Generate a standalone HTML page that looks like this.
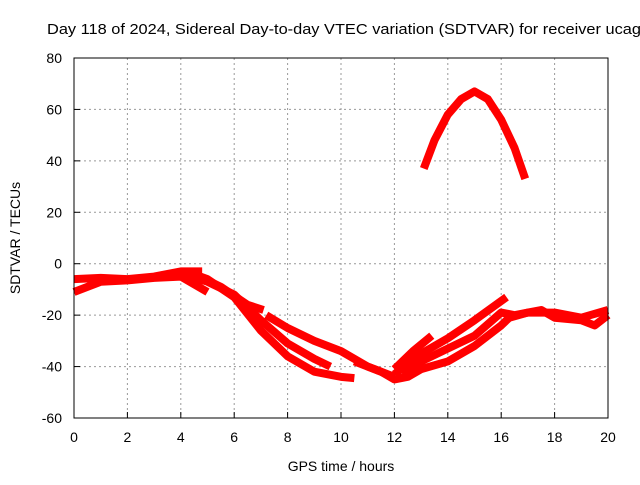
<!DOCTYPE html>
<html><head><meta charset="utf-8"><style>
body{margin:0;background:#fff;width:640px;height:480px;overflow:hidden}
svg{font-family:"Liberation Sans",sans-serif;font-size:14px}
</style></head><body>
<svg id="c" width="640" height="480">
<text x="47" y="34" font-size="15" textLength="594" lengthAdjust="spacingAndGlyphs">Day 118 of 2024, Sidereal Day-to-day VTEC variation (SDTVAR) for receiver ucag</text>
<text x="341" y="471" text-anchor="middle">GPS time / hours</text>
<text transform="translate(20,238) rotate(-90)" text-anchor="middle">SDTVAR / TECUs</text>
<g id="grid"></g><g id="series"></g>
<rect x="74" y="58" width="534" height="360" fill="none" stroke="#000"/>
</svg>
<script>
const xTicks=[0,2,4,6,8,10,12,14,16,18,20];
const yTicks=[-60,-40,-20,0,20,40,60,80];
const arcA=[[0,-6],[1,-5.5],[2,-6],[3,-5],[4,-3],[4.8,-3]];
const arcB=[[0,-11],[1,-7],[2,-6.5],[3,-5.5],[4,-5],[5,-11]];
const arcC=[[4.2,-3],[5,-6],[6,-13],[7,-26],[8,-36],[9,-42],[10,-44],[10.5,-44.5]];
const arcD=[[4,-4],[5,-7],[6,-12],[7,-22],[8,-31],[9,-37],[9.6,-40]];
const arcE=[[4.5,-4],[5.5,-9],[6.5,-16],[7.1,-18]];
const arcF=[[7.2,-20],[8,-25],[9,-30],[10,-34],[11,-40],[12,-44]];
const arcG=[[10.5,-38],[11.5,-42],[12,-45],[12.5,-44],[13,-41],[14,-38],[15,-32],[16,-24],[16.3,-21],[17,-19],[18,-19],[19,-21],[20,-18]];
const arcH=[[12,-43],[13,-35],[14,-29],[15,-22],[16.2,-13]];
const arcI=[[12.3,-43],[13,-38],[14,-33],[15,-28],[16,-19],[16.5,-20],[17,-19],[17.5,-18],[18,-21],[19,-22],[19.5,-24],[20,-20]];
const arcJ=[[12,-41],[12.7,-34],[13.4,-28]];
const arcK=[[13.1,37],[13.5,48],[14,58],[14.5,64],[15,67],[15.5,64],[16,56],[16.5,45],[16.9,33]];
const arcs=[arcA,arcB,arcC,arcD,arcE,arcF,arcG,arcH,arcI,arcJ,arcK];
const X=v=>74+v*(534/20), Y=v=>418-(v+60)*(360/140);
const NS="http://www.w3.org/2000/svg";
const g=document.getElementById('grid'), s=document.getElementById('series');
function mk(p,t,a){const e=document.createElementNS(NS,t);for(const k in a)e.setAttribute(k,a[k]);p.appendChild(e);return e;}
xTicks.forEach(t=>{
 const l=mk(g,'line',{x1:X(t),x2:X(t),y1:58,y2:418,stroke:'#999','stroke-dasharray':'2,3'});
 
 
 const tk=mk(g,'line',{x1:X(t),x2:X(t),y1:418,y2:412,stroke:'#000'});
 
 
 const tx=mk(g,'text',{x:X(t),y:442,'text-anchor':'middle'});tx.textContent=t;
 
 
});
yTicks.forEach(t=>{
 const l=mk(g,'line',{x1:74,x2:608,y1:Y(t),y2:Y(t),stroke:'#999','stroke-dasharray':'2,3'});
 
 
 const tk=mk(g,'line',{x1:74,x2:80,y1:Y(t),y2:Y(t),stroke:'#000'});
 
 
 const tx=mk(g,'text',{x:62,y:Y(t)+5,'text-anchor':'end'});tx.textContent=t;
 
 
});
arcs.forEach(a=>{
 const p=mk(s,'polyline',{points:a.map(d=>X(d[0])+','+Y(d[1])).join(' '),fill:'none',stroke:'#f00','stroke-width':8,'stroke-linejoin':'round'});
 
 
});
</script>
</body></html>
